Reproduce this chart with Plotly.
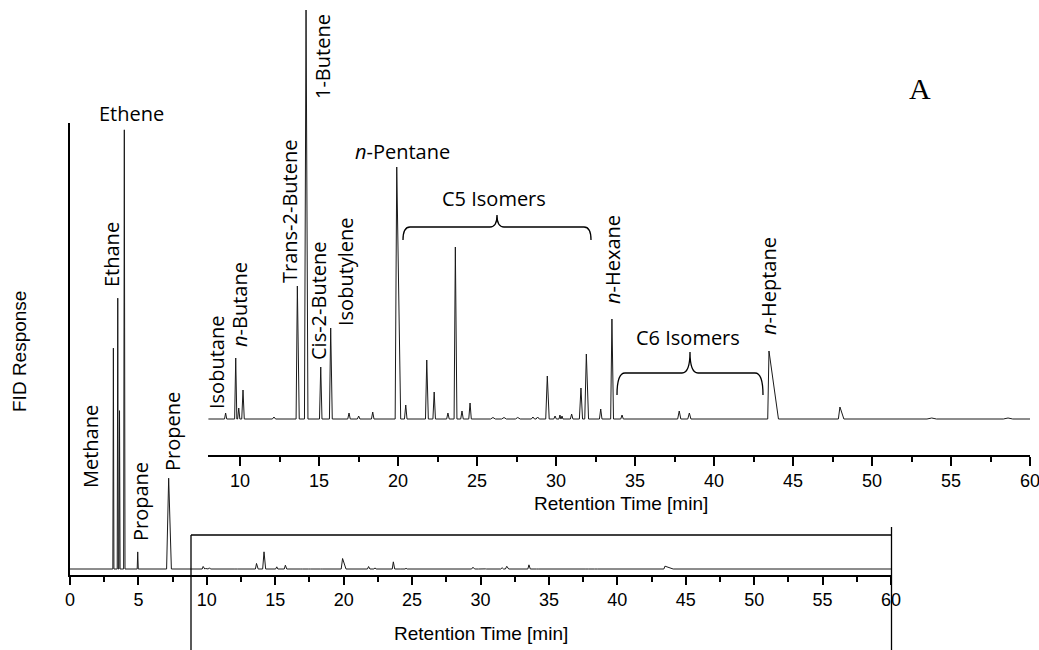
import plotly.graph_objects as go

W, H = 1039, 650

# ---------------- data ----------------
# retention time [min], peak height (arbitrary FID units), left / right half-width [min]
peak_times = [3.17, 3.49, 3.62, 3.97, 4.95, 7.21,
              9.09, 9.73, 9.92, 10.19, 12.15, 13.63, 14.18, 15.11, 15.74,
              16.90, 17.51, 18.40, 19.92, 20.49, 21.82, 22.29, 23.16, 23.63,
              24.05, 24.56, 26.01, 26.71, 27.58, 28.54, 28.84, 29.45, 29.94,
              30.25, 30.38, 30.99, 31.58, 31.92, 32.83, 33.54, 34.18, 37.80,
              38.44, 43.48, 47.97, 53.78, 58.61]
peak_heights = [5300, 6500, 3800, 10540, 410, 2180,
                6, 61, 11, 29, 2, 133, 412, 52, 91,
                6, 3, 7, 252, 14, 59, 27, 6, 172,
                8, 16, 1.5, 1.5, 1.5, 2, 2, 43, 3,
                4, 3, 5, 31, 65, 10, 100, 4, 8,
                6, 68, 12, 1, 1]
peak_left_w = [0.04, 0.04, 0.04, 0.05, 0.04, 0.15,
               0.07, 0.07, 0.07, 0.08, 0.1, 0.08, 0.1, 0.08, 0.08,
               0.08, 0.08, 0.08, 0.1, 0.08, 0.08, 0.08, 0.08, 0.08,
               0.08, 0.08, 0.15, 0.15, 0.15, 0.1, 0.1, 0.1, 0.08,
               0.06, 0.06, 0.08, 0.1, 0.1, 0.08, 0.08, 0.08, 0.1,
               0.1, 0.08, 0.1, 0.3, 0.3]
peak_right_w = [0.04, 0.04, 0.04, 0.05, 0.04, 0.2,
                0.07, 0.07, 0.07, 0.08, 0.1, 0.12, 0.12, 0.08, 0.1,
                0.08, 0.08, 0.08, 0.25, 0.08, 0.1, 0.08, 0.08, 0.1,
                0.08, 0.08, 0.15, 0.15, 0.15, 0.1, 0.1, 0.12, 0.08,
                0.06, 0.06, 0.08, 0.1, 0.14, 0.08, 0.1, 0.08, 0.1,
                0.1, 0.6, 0.25, 0.3, 0.3]
run_start, run_end = 0.0, 60.0

main_ticks = [0, 5, 10, 15, 20, 25, 30, 35, 40, 45, 50, 55, 60]
inset_ticks = [10, 15, 20, 25, 30, 35, 40, 45, 50, 55, 60]

peak_labels = [  # text, pixel centre x, pixel centre y, angle
    ("Ethene", 131, 113, 0),
    ("Ethane", 112, 255, -90),
    ("Methane", 90, 447, -90),
    ("Propane", 140, 502, -90),
    ("Propene", 172, 432, -90),
    ("Isobutane", 216, 363, -90),
    ("<i>n</i>-Butane", 239, 305, -90),
    ("Trans-2-Butene", 290, 212, -90),
    ("1-Butene", 322, 57, -90),
    ("Cis-2-Butene", 318, 301, -90),
    ("Isobutylene", 345, 272, -90),
    ("<i>n</i>-Pentane", 402, 151, 0),
    ("C5 Isomers", 494, 198, 0),
    ("<i>n</i>-Hexane", 612, 260, -90),
    ("C6 Isomers", 688, 337, 0),
    ("<i>n</i>-Heptane", 769, 286, -90),
]

# ---------------- build the trace from the peak table ----------------
sig_x = [run_start]
sig_y = [0]
for t, h, wl, wr in zip(peak_times, peak_heights, peak_left_w, peak_right_w):
    sig_x += [t - wl, t, t + wr]
    sig_y += [0, h, 0]
sig_x.append(run_end)
sig_y.append(0)


def fx(p):
    return p / W


def fy(p):
    return 1 - p / H


MAIN_SCALE = 24.0   # data units per pixel in the main panel
main_dom_y = [fy(575), fy(123)]
main_range_y = [-6 * MAIN_SCALE, (575 - 123 - 6) * MAIN_SCALE]
inset_dom_y = [fy(455), fy(10)]
inset_range_y = [-36, 455 - 10 - 36]

LINE = "#1a1a1a"
fig = go.Figure()
fig.add_trace(go.Scatter(x=sig_x, y=sig_y, mode="lines", xaxis="x", yaxis="y",
                         line=dict(color=LINE, width=1), showlegend=False, hoverinfo="skip"))
fig.add_trace(go.Scatter(x=sig_x, y=sig_y, mode="lines", xaxis="x2", yaxis="y2",
                         line=dict(color=LINE, width=1), showlegend=False, hoverinfo="skip"))

tickfont = dict(family="Liberation Sans, Arial, sans-serif", size=18, color="black")

fig.update_layout(
    width=W, height=H, autosize=False,
    margin=dict(l=0, r=0, t=0, b=0, pad=0),
    paper_bgcolor="white", plot_bgcolor="rgba(0,0,0,0)",
    xaxis=dict(domain=[fx(70), fx(891)], range=[0, 60], anchor="y", automargin=False,
               ticklabeloverflow="allow",
               showgrid=False, zeroline=False, showline=True, linecolor="black", linewidth=1.5,
               ticks="outside", ticklen=8, tickwidth=1.5, tickcolor="black",
               tickvals=main_ticks, ticktext=[str(v) for v in main_ticks], tickfont=tickfont,
               minor=dict(tickvals=[v + 2.5 for v in main_ticks[:-1]], ticks="outside",
                          ticklen=5, tickwidth=1.5, tickcolor="black")),
    yaxis=dict(domain=main_dom_y, range=main_range_y, anchor="x", automargin=False,
               showgrid=False, zeroline=False, showline=True, linecolor="black", linewidth=1.5,
               ticks="", showticklabels=False),
    xaxis2=dict(domain=[fx(208.4), fx(1030)], range=[8, 60], anchor="y2", automargin=False,
                ticklabeloverflow="allow",
                showgrid=False, zeroline=False, showline=True, linecolor="black", linewidth=1.5,
                ticks="outside", ticklen=9, tickwidth=1.5, tickcolor="black",
                tickvals=inset_ticks, ticktext=[str(v) for v in inset_ticks], tickfont=tickfont,
                minor=dict(tickvals=[v + 2.5 for v in inset_ticks[:-1]], ticks="outside",
                           ticklen=5, tickwidth=1.5, tickcolor="black")),
    yaxis2=dict(domain=inset_dom_y, range=inset_range_y, anchor="x2", visible=False,
                automargin=False),
)

annotations = []
lab_font = dict(family="Open Sans, sans-serif", size=20, color="black")
for text, x, y, ang in peak_labels:
    annotations.append(dict(text=text, x=fx(x), y=fy(y), xref="paper", yref="paper",
                            showarrow=False, textangle=ang, xanchor="center", yanchor="middle",
                            font=lab_font))
titlefont = dict(family="Liberation Sans, Arial, sans-serif", size=19, color="black")
annotations += [
    dict(text="Retention Time [min]", x=fx(480.5), y=fy(633), xref="paper", yref="paper",
         showarrow=False, xanchor="center", yanchor="middle", font=titlefont),
    dict(text="Retention Time [min]", x=fx(621), y=fy(504), xref="paper", yref="paper",
         showarrow=False, xanchor="center", yanchor="middle", font=titlefont),
    dict(text="FID Response", x=fx(19), y=fy(352), xref="paper", yref="paper",
         showarrow=False, textangle=-90, xanchor="center", yanchor="middle", font=titlefont),
    dict(text="A", x=fx(920), y=fy(88), xref="paper", yref="paper", showarrow=False,
         xanchor="center", yanchor="middle",
         font=dict(family="Liberation Serif, Times New Roman, serif", size=30, color="black")),
]
fig.update_layout(annotations=annotations)


def path(points_cmds):
    out = []
    for cmd, pts in points_cmds:
        coords = " ".join(f"{fx(a):.5f},{fy(b):.5f}" for a, b in pts)
        out.append(f"{cmd} {coords}")
    return " ".join(out)


def brace(x0, x1, xm, ybar, yend, ytip, r=7):
    return path([
        ("M", [(x0, yend)]),
        ("Q", [(x0, ybar), (x0 + r, ybar)]),
        ("L", [(xm - r, ybar)]),
        ("Q", [(xm, ybar), (xm, ytip)]),
        ("Q", [(xm, ybar), (xm + r, ybar)]),
        ("L", [(x1 - r, ybar)]),
        ("Q", [(x1, ybar), (x1, yend)]),
    ])


shp = dict(xref="paper", yref="paper", line=dict(color="black", width=1.3))
shapes = [
    dict(type="path", path=brace(403, 591, 497, 227, 240, 215), **shp),
    dict(type="path", path=brace(617, 763, 690, 373, 395, 352, r=8), **shp),
    # zoom window frame
    dict(type="line", x0=fx(191), x1=fx(891.5), y0=fy(535), y1=fy(535), **shp),
    dict(type="line", x0=fx(191), x1=fx(191), y0=fy(535), y1=fy(650), **shp),
    dict(type="line", x0=fx(891.5), x1=fx(891.5), y0=fy(527), y1=fy(650), **shp),
]
fig.update_layout(shapes=shapes)

fig.write_html("out.html")
